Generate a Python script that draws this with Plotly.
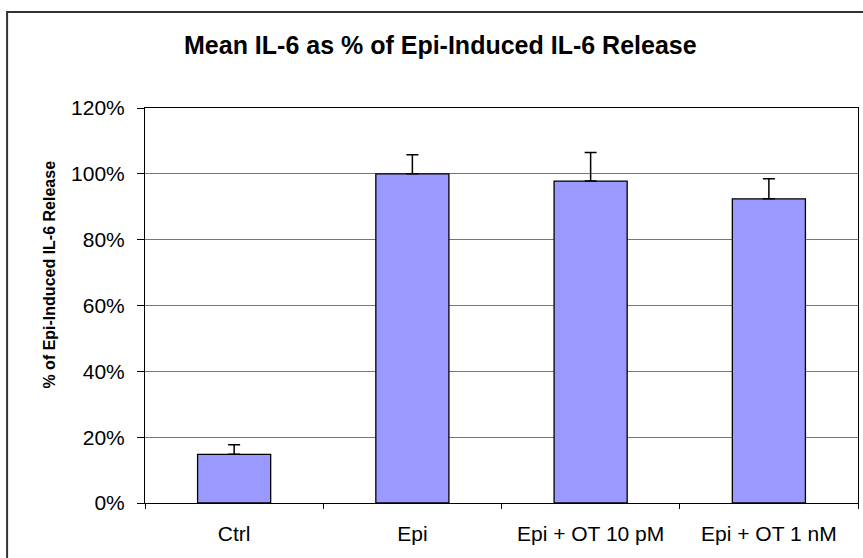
import plotly.graph_objects as go

categories = ["Ctrl", "Epi", "Epi + OT 10 pM", "Epi + OT 1 nM"]
means = [14.8, 100.0, 97.8, 92.4]
errors_plus = [2.9, 5.8, 8.7, 6.1]
y_tick_vals = [0, 20, 40, 60, 80, 100, 120]
y_tick_text = ["0%", "20%", "40%", "60%", "80%", "100%", "120%"]

W, H = 863, 558
L, R, T, B = 144.5, 5, 108, 55
pw, ph = W - L - R, H - T - B

def px_x(x):
    return (x - L) / pw

def px_y(y):
    return (H - B - y) / ph

FONT = "Liberation Sans, Arial, sans-serif"

fig = go.Figure(
    go.Bar(
        x=categories,
        y=means,
        marker=dict(color="#9999FF", line=dict(color="#000000", width=1.3)),
        error_y=dict(type="data", array=errors_plus, symmetric=False,
                     arrayminus=[0, 0, 0, 0], color="#000000",
                     thickness=1.5, width=6),
        width=0.41,
    )
)

fig.update_layout(
    width=W, height=H,
    margin=dict(l=L, r=R, t=T, b=B),
    paper_bgcolor="white", plot_bgcolor="white",
    showlegend=False,
    font=dict(family=FONT, color="#000000"),
    annotations=[
        dict(text="<b>Mean IL-6 as % of Epi-Induced IL-6 Release</b>",
             xref="paper", yref="paper", x=px_x(440), y=px_y(45),
             xanchor="center", yanchor="middle", showarrow=False,
             font=dict(size=25, family=FONT)),
        dict(text="<b>% of Epi-Induced IL-6 Release</b>",
             xref="paper", yref="paper", x=px_x(48), y=px_y(275),
             xanchor="center", yanchor="middle", showarrow=False,
             textangle=-90, font=dict(size=16, family=FONT)),
    ],
    shapes=[
        dict(type="rect", xref="paper", yref="paper",
             x0=px_x(6.5), x1=px_x(900), y0=px_y(600), y1=px_y(12),
             line=dict(color="#333333", width=2), fillcolor="rgba(0,0,0,0)",
             layer="below"),
    ],
)

fig.update_xaxes(
    showline=True, linecolor="#000000", linewidth=1, mirror=True,
    ticks="outside", tickson="boundaries", ticklen=5, tickcolor="#000000",
    tickfont=dict(size=21, family=FONT), ticklabelstandoff=12,
    showgrid=False,
)
fig.update_yaxes(
    range=[0, 120], tickvals=y_tick_vals, ticktext=y_tick_text,
    showline=True, linecolor="#000000", linewidth=1, mirror=True,
    ticks="outside", ticklen=7, tickcolor="#000000",
    tickfont=dict(size=21, family=FONT), ticklabelstandoff=8,
    showgrid=True, gridcolor="#777777", gridwidth=1,
    zeroline=False,
)

fig.write_html("out.html", config={"displayModeBar": False},
               post_script="document.body.style.margin='0px';document.body.style.overflow='hidden';")
